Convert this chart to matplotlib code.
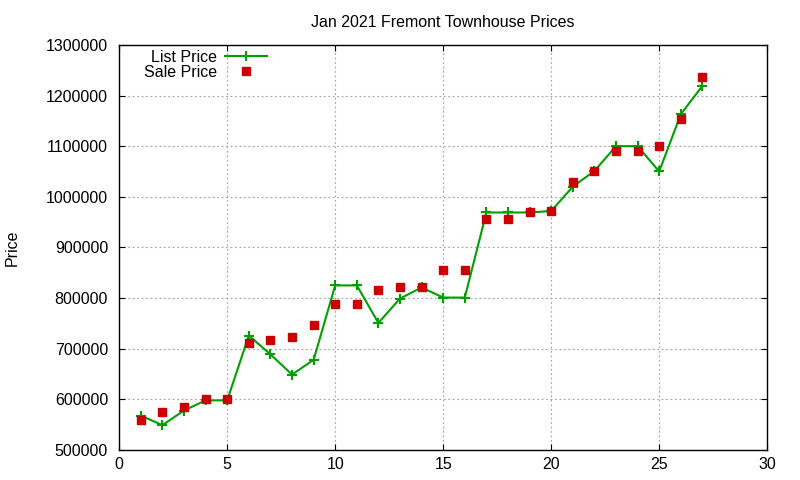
import matplotlib
matplotlib.use("Agg")
import matplotlib.pyplot as plt
from matplotlib.ticker import FormatStrFormatter

plt.rcParams['font.family'] = ['Liberation Sans', 'DejaVu Sans']

# day index of the listing
days = list(range(1, 28))

list_price = [568000, 549000, 578000, 598000, 598000, 726000, 689000, 649000, 678000,
              825000, 825000, 751000, 799000, 821000, 801000, 801000, 969000, 969000,
              969000, 972000, 1020000, 1051000, 1100000, 1100000, 1050000, 1163000, 1219000]

sale_price = [560000, 576000, 585000, 601000, 601000, 711000, 717000, 723000, 747000,
              789000, 789000, 815000, 821000, 821000, 855000, 855000, 957000, 957000,
              970000, 972000, 1030000, 1050000, 1091000, 1091000, 1100000, 1154000, 1236000]

x_ticks = [0, 5, 10, 15, 20, 25, 30]
y_ticks = [500000, 600000, 700000, 800000, 900000, 1000000, 1100000, 1200000, 1300000]

fig = plt.figure(figsize=(8, 4.8), dpi=100)
ax = fig.add_axes([0.149, 0.0625, 0.81, 0.844])

ax.plot(days, list_price, color='#00a000', lw=1.5, marker='+', ms=7, mew=1.5,
        label='List Price', zorder=3)
ax.plot(days, sale_price, ls='none', marker='s', ms=5.8, color='#cc0000',
        label='Sale Price', zorder=4)

ax.set_xlim(0, 30)
ax.set_ylim(500000, 1300000)
ax.set_xticks(x_ticks)
ax.set_yticks(y_ticks)
ax.yaxis.set_major_formatter(FormatStrFormatter('%d'))

ax.grid(True, color='#a0a0a0', lw=0.8, ls=(0, (1.5, 2.5)))
ax.tick_params(direction='in', length=4, width=0.8, top=True, right=True,
               labelsize=11.5)
ax.tick_params(axis='x', pad=5)
ax.tick_params(axis='y', pad=8)
for s in ax.spines.values():
    s.set_linewidth(1)

ax.set_title('Jan 2021 Fremont Townhouse Prices', fontsize=11.5, pad=13)
ax.set_ylabel('Price', fontsize=11.5, labelpad=19)

ax.legend(loc='upper right', bbox_to_anchor=(0.228, 0.988), frameon=False,
          markerfirst=False, fontsize=11.5, handlelength=2.6, handletextpad=0.55,
          borderpad=0, borderaxespad=0, labelspacing=0.0)

fig.savefig('out.png', dpi=100)
